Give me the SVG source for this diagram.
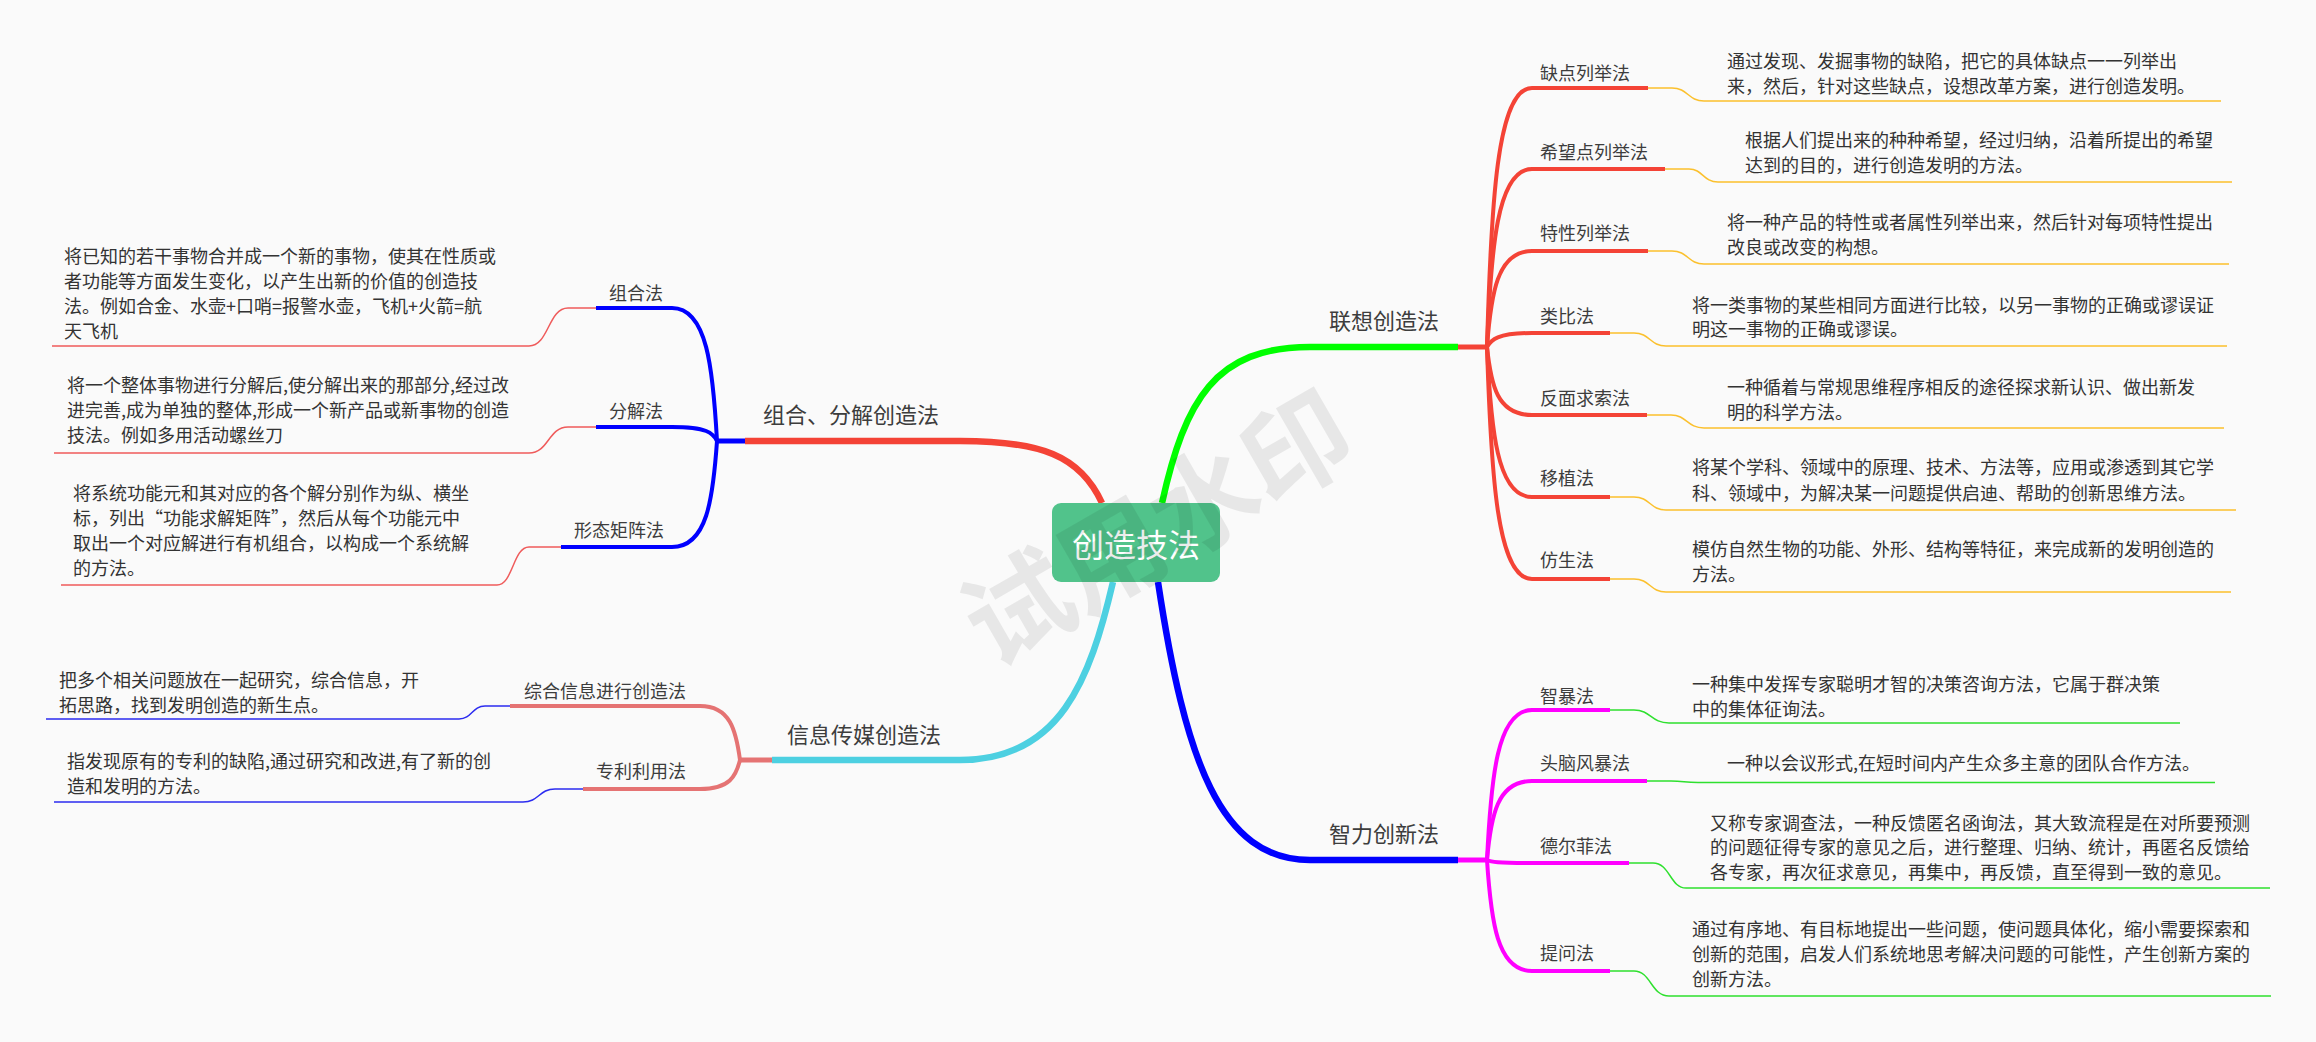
<svg xmlns="http://www.w3.org/2000/svg" width="2316" height="1042" viewBox="0 0 2316 1042">
<style>
text{font-family:"Noto Sans CJK SC","Noto Sans",sans-serif;fill:#333}
.main{font-size:22px;fill:#3d3d3d}
.sub{font-size:18px;fill:#3d3d3d}
.desc{font-size:18px;fill:#333}
.br{fill:none;stroke-linecap:butt;stroke-linejoin:round}
.m{stroke-width:6.5}
.s{stroke-width:4}
.lf{fill:none;stroke-width:1.5}
.wm{font-size:107px;font-weight:bold;fill:#000;fill-opacity:0.075}
</style>
<rect x="0" y="0" width="2316" height="1042" fill="#fafafa"/>
<g id="connectors">
  <path class="br m" stroke="#00FF00" d="M1162,503 C1185,400 1215,347 1310,347 L1458,347"/>
  <path class="br m" stroke="#0000FF" d="M1158,582 C1185,760 1220,860 1310,860 L1458,860"/>
  <path class="br m" stroke="#F44336" d="M1102,503 C1080,455 1040,441 960,441 L745,441"/>
  <path class="br m" stroke="#4DD0E1" d="M1113,582 C1090,680 1060,760 960,760 L772,760"/>
  <path class="br" stroke="#F44336" stroke-width="5" d="M1458,347 L1489,347"/>
  <path class="br" stroke="#FF00FF" stroke-width="5" d="M1458,860 L1489,860"/>
  <path class="br" stroke="#0000FF" stroke-width="5" d="M745,441 L715,441"/>
  <path class="br" stroke="#E57373" stroke-width="5" d="M772,760 L738,760"/>
  <g stroke="#F44336">
    <path class="br s" d="M1487,347 C1491,204 1497,88 1532,88 L1648,88"/>
    <path class="br s" d="M1487,347 C1491,249 1497,169 1532,169 L1665,169"/>
    <path class="br s" d="M1487,347 C1491,294 1497,251 1532,251 L1648,251"/>
    <path class="br s" d="M1487,347 C1491,340 1497,333 1532,333 L1610,333"/>
    <path class="br s" d="M1487,347 C1491,385 1497,415 1532,415 L1647,415"/>
    <path class="br s" d="M1487,347 C1491,430 1497,497 1532,497 L1610,497"/>
    <path class="br s" d="M1487,347 C1491,474 1497,579 1532,579 L1610,579"/>
  </g>
  <g stroke="#FF00FF">
    <path class="br s" d="M1487,860 C1491,778 1497,710 1532,710 L1610,710"/>
    <path class="br s" d="M1487,860 C1491,816 1497,781 1532,781 L1647,781"/>
    <path class="br s" d="M1487,860 C1491,862 1497,863 1532,863 L1629,863"/>
    <path class="br s" d="M1487,860 C1491,921 1497,971 1532,971 L1610,971"/>
  </g>
  <g stroke="#0000FF">
    <path class="br s" d="M717,441 C713,368 707,308 672,308 L596,308"/>
    <path class="br s" d="M717,441 C713,433 707,427 672,427 L596,427"/>
    <path class="br s" d="M717,441 C713,499 707,547 672,547 L561,547"/>
  </g>
  <g stroke="#E57373">
    <path class="br s" d="M740,760 C736,730 730,706 700,706 L510,706"/>
    <path class="br s" d="M740,760 C736,776 730,789 700,789 L583,789"/>
  </g>
  <g stroke="#FBC02D">
    <path class="lf" d="M1648,88 L1672,88 C1688,88 1688,101 1704,101 L2221,101"/>
    <path class="lf" d="M1665,169 L1689,169 C1703,169 1703,182 1718,182 L2232,182"/>
    <path class="lf" d="M1648,251 L1672,251 C1688,251 1688,264 1704,264 L2229,264"/>
    <path class="lf" d="M1610,333 L1634,333 C1650,333 1650,346 1666,346 L2227,346"/>
    <path class="lf" d="M1647,415 L1671,415 C1687,415 1687,428 1704,428 L2224,428"/>
    <path class="lf" d="M1610,497 L1634,497 C1650,497 1650,510 1666,510 L2236,510"/>
    <path class="lf" d="M1610,579 L1634,579 C1650,579 1650,592 1666,592 L2231,592"/>
  </g>
  <g stroke="#2EE02E">
    <path class="lf" d="M1610,710 L1634,710 C1651,710 1651,723 1669,723 L2180,723"/>
    <path class="lf" d="M1647,781 L1671,781 C1684,781 1684,782.5 1698,782.5 L2215,782.5"/>
    <path class="lf" d="M1629,863 L1653,863 C1670,863 1670,888 1686,888 L2270,888"/>
    <path class="lf" d="M1610,971 L1634,971 C1651,971 1651,996 1669,996 L2271,996"/>
  </g>
  <g stroke="#EF5B5B">
    <path class="lf" d="M596,308 L568,308 C548,308 549,346 529,346 L52,346"/>
    <path class="lf" d="M596,427 L568,427 C548,427 549,453 529,453 L54,453"/>
    <path class="lf" d="M561,547 L529,547 C513,547 513,585 497,585 L61,585"/>
  </g>
  <g stroke="#2B2BF0">
    <path class="lf" d="M510,706 L485,706 C472,706 472,719 459,719 L46,719"/>
    <path class="lf" d="M583,789 L555,789 C539,789 539,802 523,802 L54,802"/>
  </g>
</g>
<g id="root">
  <rect x="1052" y="503" width="168" height="79" rx="9" fill="#51C38B"/>
  <text x="1136" y="557" text-anchor="middle" style="font-size:32px;fill:#fff">创造技法</text>
</g>
<g id="b-lianxiang"><text class="main" x="1329" y="329">联想创造法</text></g>
<g id="b-zhili"><text class="main" x="1329" y="842">智力创新法</text></g>
<g id="b-zuhe"><text class="main" x="763" y="423">组合、分解创造法</text></g>
<g id="b-xinxi"><text class="main" x="787" y="743">信息传媒创造法</text></g>

<g id="n-quedian"><text class="sub" x="1540" y="80">缺点列举法</text></g>
<g id="n-xiwang"><text class="sub" x="1540" y="159">希望点列举法</text></g>
<g id="n-texing"><text class="sub" x="1540" y="240">特性列举法</text></g>
<g id="n-leibi"><text class="sub" x="1540" y="323">类比法</text></g>
<g id="n-fanmian"><text class="sub" x="1540" y="405">反面求索法</text></g>
<g id="n-yizhi"><text class="sub" x="1540" y="485">移植法</text></g>
<g id="n-fangsheng"><text class="sub" x="1540" y="567">仿生法</text></g>
<g id="n-zhibao"><text class="sub" x="1540" y="703">智暴法</text></g>
<g id="n-tounao"><text class="sub" x="1540" y="770">头脑风暴法</text></g>
<g id="n-deerfei"><text class="sub" x="1540" y="853">德尔菲法</text></g>
<g id="n-tiwen"><text class="sub" x="1540" y="960">提问法</text></g>
<g id="n-zuhefa"><text class="sub" x="609" y="300">组合法</text></g>
<g id="n-fenjie"><text class="sub" x="609" y="418">分解法</text></g>
<g id="n-xingtai"><text class="sub" x="574" y="537">形态矩阵法</text></g>
<g id="n-zonghe"><text class="sub" x="524" y="698">综合信息进行创造法</text></g>
<g id="n-zhuanli"><text class="sub" x="596" y="778">专利利用法</text></g>

<g id="d-quedian"><text class="desc" x="1727" y="68">通过发现、发掘事物的缺陷，把它的具体缺点一一列举出</text><text class="desc" x="1727" y="93">来，然后，针对这些缺点，设想改革方案，进行创造发明。</text></g>
<g id="d-xiwang"><text class="desc" x="1745" y="147">根据人们提出来的种种希望，经过归纳，沿着所提出的希望</text><text class="desc" x="1745" y="172">达到的目的，进行创造发明的方法。</text></g>
<g id="d-texing"><text class="desc" x="1727" y="229">将一种产品的特性或者属性列举出来，然后针对每项特性提出</text><text class="desc" x="1727" y="254">改良或改变的构想。</text></g>
<g id="d-leibi"><text class="desc" x="1692" y="312">将一类事物的某些相同方面进行比较，以另一事物的正确或谬误证</text><text class="desc" x="1692" y="336">明这一事物的正确或谬误。</text></g>
<g id="d-fanmian"><text class="desc" x="1727" y="394">一种循着与常规思维程序相反的途径探求新认识、做出新发</text><text class="desc" x="1727" y="419">明的科学方法。</text></g>
<g id="d-yizhi"><text class="desc" x="1692" y="474">将某个学科、领域中的原理、技术、方法等，应用或渗透到其它学</text><text class="desc" x="1692" y="500">科、领域中，为解决某一问题提供启迪、帮助的创新思维方法。</text></g>
<g id="d-fangsheng"><text class="desc" x="1692" y="556">模仿自然生物的功能、外形、结构等特征，来完成新的发明创造的</text><text class="desc" x="1692" y="581">方法。</text></g>
<g id="d-zhibao"><text class="desc" x="1692" y="691">一种集中发挥专家聪明才智的决策咨询方法，它属于群决策</text><text class="desc" x="1692" y="716">中的集体征询法。</text></g>
<g id="d-tounao"><text class="desc" x="1727" y="770">一种以会议形式,在短时间内产生众多主意的团队合作方法。</text></g>
<g id="d-deerfei"><text class="desc" x="1710" y="830">又称专家调查法，一种反馈匿名函询法，其大致流程是在对所要预测</text><text class="desc" x="1710" y="854">的问题征得专家的意见之后，进行整理、归纳、统计，再匿名反馈给</text><text class="desc" x="1710" y="879">各专家，再次征求意见，再集中，再反馈，直至得到一致的意见。</text></g>
<g id="d-tiwen"><text class="desc" x="1692" y="936">通过有序地、有目标地提出一些问题，使问题具体化，缩小需要探索和</text><text class="desc" x="1692" y="961">创新的范围，启发人们系统地思考解决问题的可能性，产生创新方案的</text><text class="desc" x="1692" y="986">创新方法。</text></g>
<g id="d-zuhefa"><text class="desc" x="64" y="263">将已知的若干事物合并成一个新的事物，使其在性质或</text><text class="desc" x="64" y="288">者功能等方面发生变化，以产生出新的价值的创造技</text><text class="desc" x="64" y="313">法。例如合金、水壶+口哨=报警水壶，飞机+火箭=航</text><text class="desc" x="64" y="338">天飞机</text></g>
<g id="d-fenjie"><text class="desc" x="67" y="392">将一个整体事物进行分解后,使分解出来的那部分,经过改</text><text class="desc" x="67" y="417">进完善,成为单独的整体,形成一个新产品或新事物的创造</text><text class="desc" x="67" y="442">技法。例如多用活动螺丝刀</text></g>
<g id="d-xingtai"><text class="desc" x="73" y="500">将系统功能元和其对应的各个解分别作为纵、横坐</text><text class="desc" x="73" y="525">标，列出“功能求解矩阵”，然后从每个功能元中</text><text class="desc" x="73" y="550">取出一个对应解进行有机组合，以构成一个系统解</text><text class="desc" x="73" y="575">的方法。</text></g>
<g id="d-zonghe"><text class="desc" x="59" y="687">把多个相关问题放在一起研究，综合信息，开</text><text class="desc" x="59" y="712">拓思路，找到发明创造的新生点。</text></g>
<g id="d-zhuanli"><text class="desc" x="67" y="768">指发现原有的专利的缺陷,通过研究和改进,有了新的创</text><text class="desc" x="67" y="793">造和发明的方法。</text></g>

<text class="wm" x="1157" y="567" text-anchor="middle" transform="rotate(-30 1157 527)">试用水印</text>
</svg>
